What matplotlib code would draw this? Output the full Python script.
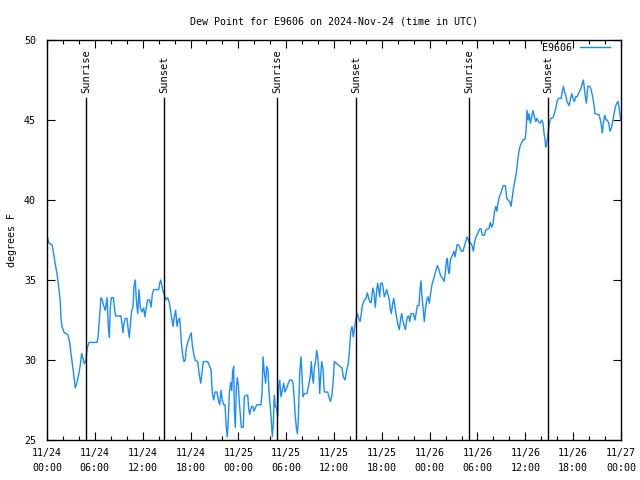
import matplotlib
matplotlib.use("Agg")
import matplotlib.pyplot as plt
from matplotlib.ticker import MultipleLocator

# hours since 2024-11-24 00:00 UTC
hours = [
    0.00, 0.25, 0.63, 0.75, 1.00, 1.25, 1.51, 1.67, 1.76, 1.88, 2.17, 2.60, 2.85, 3.01, 3.17, 3.35,
    3.55, 3.76, 3.98, 4.18, 4.35, 4.52, 4.68, 4.89, 5.02, 5.27, 6.27, 6.40, 6.56, 6.77, 6.94, 7.11,
    7.31, 7.53, 7.69, 7.82, 7.94, 8.07, 8.32, 8.49, 8.62, 9.28, 9.41, 9.53, 9.66, 9.82, 10.04, 10.16,
    10.32, 10.45, 10.62, 10.79, 10.91, 11.08, 11.20, 11.38, 11.54, 11.70, 11.92, 12.13, 12.29, 12.46,
    12.63, 12.88, 13.05, 13.21, 13.38, 14.01, 14.14, 14.26, 14.39, 14.51, 14.71, 14.93, 15.14, 15.34,
    15.52, 15.68, 15.81, 15.97, 16.14, 16.31, 16.47, 16.65, 16.77, 16.85, 17.02, 17.19, 17.35, 17.47,
    17.65, 17.90, 18.10, 18.23, 18.40, 18.57, 18.90, 19.07, 19.28, 19.48, 19.61, 20.16, 20.41, 20.57,
    20.74, 20.91, 21.07, 21.32, 21.49, 21.66, 21.83, 21.99, 22.17, 22.33, 22.49, 22.62, 22.74, 22.87,
    23.04, 23.17, 23.29, 23.42, 23.50, 23.62, 23.75, 23.87, 24.00, 24.12, 24.25, 24.37, 24.62, 24.75,
    25.00, 25.18, 25.30, 25.43, 25.55, 25.68, 25.84, 25.97, 26.13, 26.31, 26.84, 26.97, 27.10, 27.26,
    27.43, 27.56, 27.72, 27.85, 27.97, 28.10, 28.26, 28.39, 28.51, 28.64, 28.81, 28.94, 29.06, 29.19,
    29.35, 29.52, 29.69, 29.85, 30.07, 30.27, 30.44, 30.70, 30.86, 30.98, 31.11, 31.27, 31.40, 31.52,
    31.70, 31.86, 31.99, 32.11, 32.28, 32.61, 32.87, 33.03, 33.15, 33.28, 33.41, 33.53, 33.71, 33.83,
    33.96, 34.08, 34.21, 34.33, 34.46, 34.62, 34.78, 35.21, 35.37, 35.54, 35.71, 35.88, 36.04, 36.75,
    37.00, 37.17, 37.38, 37.60, 37.80, 37.92, 38.10, 38.26, 38.42, 38.60, 38.76, 38.92, 39.10, 39.26,
    39.43, 39.55, 39.76, 40.02, 40.18, 40.36, 40.52, 40.68, 40.86, 41.02, 41.18, 41.36, 41.48, 41.61,
    41.73, 41.86, 42.06, 42.19, 42.31, 42.49, 42.61, 42.78, 42.94, 43.06, 43.19, 43.37, 43.49, 43.62,
    43.74, 43.87, 44.03, 44.19, 44.37, 44.49, 44.62, 44.78, 44.95, 45.07, 45.20, 45.37, 45.50, 45.66,
    45.95, 46.16, 46.29, 46.45, 46.66, 46.79, 46.91, 47.04, 47.20, 47.33, 47.45, 47.63, 47.79, 47.96,
    48.13, 48.29, 48.46, 48.63, 48.80, 48.96, 49.14, 49.30, 49.46, 49.64, 49.80, 49.96, 50.09, 50.21,
    50.34, 50.47, 50.59, 50.77, 50.93, 51.06, 51.18, 51.31, 51.43, 51.64, 51.81, 51.97, 52.18, 52.35,
    52.52, 52.69, 52.85, 52.98, 53.19, 53.35, 53.48, 53.65, 53.82, 54.03, 54.28, 54.44, 54.61, 54.86,
    55.03, 55.28, 55.44, 55.61, 55.78, 55.95, 56.11, 56.29, 56.42, 56.57, 56.74, 56.91, 57.08, 57.24,
    57.49, 57.67, 57.83, 58.04, 58.20, 58.37, 58.54, 58.71, 58.87, 59.05, 59.21, 59.37, 59.55, 59.71,
    59.96, 60.09, 60.21, 60.34, 60.46, 60.63, 60.80, 60.96, 61.13, 61.30, 61.47, 61.63, 61.88, 62.06,
    62.22, 62.34, 62.47, 62.56, 62.68, 62.81, 62.93, 63.06, 63.22, 63.47, 63.64, 63.81, 63.97, 64.14,
    64.48, 64.64, 64.77, 64.89, 65.07, 65.23, 65.48, 65.64, 65.82, 65.98, 66.15, 66.32, 66.49, 66.65,
    66.82, 66.99, 67.15, 67.28, 67.40, 67.53, 67.66, 67.83, 68.08, 68.24, 68.41, 68.58, 68.74, 68.99,
    69.24, 69.41, 69.58, 69.66, 69.78, 69.96, 70.12, 70.28, 70.46, 70.62, 70.79, 70.96, 71.13, 71.29,
    71.47, 71.63, 71.75, 71.88, 71.96,
]
dewpoint = [
    37.75, 37.3, 37.2, 36.9, 36.1, 35.4, 34.4, 33.6, 32.6, 32.1, 31.7, 31.6, 31.1, 30.4, 29.8, 29.1,
    28.25, 28.6, 29.1, 29.7, 30.4, 30.1, 29.75, 30.0, 30.7, 31.1, 31.1, 31.4, 32.5, 33.9, 33.75, 33.4,
    33.1, 33.9, 32.1, 31.4, 33.3, 33.9, 33.9, 33.1, 32.75, 32.75, 32.2, 31.7, 32.3, 32.6, 32.6, 32.0,
    31.4, 32.2, 33.1, 33.3, 34.6, 35.0, 33.75, 32.9, 34.4, 33.3, 33.0, 33.25, 32.7, 33.3,
    33.75, 33.75, 33.3, 34.1, 34.4, 34.4, 34.8, 35.0, 34.7, 34.4, 34.1, 33.75, 33.9, 33.6,
    33.0, 32.5, 32.1, 32.7, 33.1, 32.1, 32.5, 32.6, 31.7, 31.1, 30.3, 29.9, 30.0, 30.75,
    31.1, 31.45, 31.7, 30.9, 30.4, 30.0, 29.9, 29.2, 28.55, 29.4, 29.9, 29.9, 29.6, 29.4,
    27.9, 27.5, 28.0, 28.0, 27.5, 27.2, 28.1, 27.5, 27.2, 27.2, 25.8, 25.2, 26.25, 27.9,
    28.6, 28.1, 29.3, 29.6, 26.9, 25.8, 28.25, 28.9, 28.4, 27.4, 26.6, 25.8, 25.8, 27.7,
    27.8, 27.8, 26.9, 26.6, 26.9, 27.1, 27.1, 26.8, 27.0, 27.2, 27.2, 27.9, 30.2, 29.2,
    28.55, 29.6, 29.4, 28.0, 27.3, 26.5, 25.2, 26.05, 27.8, 27.1, 27.0, 26.5, 28.3, 28.75,
    27.7, 28.1, 28.55, 28.0, 28.25, 28.55, 28.75, 28.75, 28.55, 27.8, 26.7, 25.8, 25.4, 26.25,
    29.2, 30.2, 29.0, 27.7, 27.9, 27.9, 28.55, 29.0, 29.9, 29.0, 28.55, 29.5, 30.0, 30.6,
    30.2, 29.4, 27.9, 29.0, 29.9, 29.4, 28.0, 28.0, 27.7, 27.4, 27.7, 28.55, 29.9, 29.6,
    29.5, 28.95, 28.75, 29.4, 29.8, 30.5, 31.8, 32.1, 31.45, 32.1, 32.6, 32.9, 32.6, 32.4,
    32.9, 33.4, 33.7, 33.85, 34.2, 33.85, 33.6, 33.6, 34.5, 34.2, 33.3, 34.4, 34.8, 34.4,
    33.95, 34.8, 34.8, 34.4, 33.95, 34.2, 34.4, 34.05, 33.75, 33.2, 32.9, 33.55, 33.85, 33.4,
    33.0, 32.6, 32.2, 31.9, 32.6, 32.9, 32.5, 32.2, 31.9, 32.3, 32.7, 32.75, 32.4, 32.9,
    32.9, 32.5, 32.9, 33.4, 33.4, 34.4, 34.95, 33.95, 33.1, 32.4, 33.1, 33.75, 33.95, 33.55,
    34.2, 34.7, 35.0, 35.3, 35.6, 35.9, 35.7, 35.4, 35.2, 35.1, 34.9, 35.4, 36.15, 36.35,
    35.6, 35.4, 36.25, 36.45, 36.65, 36.8, 36.45, 36.8, 37.2, 37.2, 37.0, 36.8, 36.8, 37.1,
    37.4, 37.7, 37.5, 37.3, 37.3, 37.1, 36.8, 37.4, 37.7, 37.9, 38.2, 38.2, 37.8, 37.8,
    38.1, 38.2, 38.2, 38.6, 38.3, 38.5, 39.2, 39.6, 39.3, 39.8, 40.2, 40.4, 40.7, 40.9,
    40.9, 40.1, 40.0, 39.9, 39.6, 40.2, 40.8, 41.25, 41.7, 42.5, 43.1, 43.4, 43.6, 43.75,
    43.8, 44.3, 45.6, 45.0, 45.4, 44.8, 45.2, 45.6, 45.2, 44.9, 45.1, 44.9, 44.8, 45.0,
    44.8, 44.2, 43.75, 43.3, 43.55, 43.95, 44.5, 44.9, 45.1, 45.15, 45.4, 45.7, 46.15, 46.35,
    46.35, 46.8, 47.1, 46.8, 46.55, 46.15, 45.9, 46.25, 46.65, 46.35, 46.15, 46.45, 46.45, 46.65,
    46.8, 47.0, 47.3, 47.5, 47.0, 46.45, 46.05, 47.1, 47.1, 46.9, 46.55, 46.05, 45.4, 45.35,
    45.35, 45.0, 44.5, 44.2, 44.8, 45.3, 45.0, 45.0, 44.8, 44.3, 44.5, 44.9, 45.4, 45.8,
    46.05, 46.15, 45.8, 45.3, 45.0,
]

sun_hours = [4.92, 14.71, 28.89, 38.80, 52.98, 62.89]
sun_labels = ["Sunrise", "Sunset", "Sunrise", "Sunset", "Sunrise", "Sunset"]

tick_hours = list(range(0, 73, 6))
tick_labels = [
    "11/24\n00:00", "11/24\n06:00", "11/24\n12:00", "11/24\n18:00",
    "11/25\n00:00", "11/25\n06:00", "11/25\n12:00", "11/25\n18:00",
    "11/26\n00:00", "11/26\n06:00", "11/26\n12:00", "11/26\n18:00",
    "11/27\n00:00",
]

plt.rcParams["font.family"] = "DejaVu Sans Mono"
plt.rcParams["font.size"] = 7.2

fig = plt.figure(figsize=(6.4, 4.8), dpi=100)
ax = fig.add_axes([47 / 640, 40 / 480, 574 / 640, 400 / 480])

ax.plot(hours, dewpoint, color="#1a8cff", lw=1.0, label="E9606")

for h, lab in zip(sun_hours, sun_labels):
    ax.plot([h, h], [25, 46.4], color="black", lw=1.0)
    ax.text(h, 46.7, lab, rotation=90, ha="center", va="bottom", fontsize=7.5)

ax.set_xlim(0, 72)
ax.set_ylim(25, 50)
ax.set_xticks(tick_hours)
ax.set_xticklabels(tick_labels, linespacing=1.55)
ax.xaxis.set_minor_locator(MultipleLocator(2))
ax.yaxis.set_major_locator(MultipleLocator(5))
ax.tick_params(which="both", direction="in", top=True, right=True, width=0.8)
ax.tick_params(which="major", length=6)
ax.tick_params(axis="x", which="major", pad=6)
ax.tick_params(axis="y", which="major", pad=8)
ax.tick_params(which="minor", length=3)
for s in ax.spines.values():
    s.set_linewidth(1.0)

ax.set_title("Dew Point for E9606 on 2024-Nov-24 (time in UTC)", fontsize=7.2, pad=11)
ax.set_ylabel("degrees F", labelpad=5)

leg = ax.legend(loc="upper right", frameon=False, markerfirst=False, handlelength=3.0,
                borderaxespad=0.0, borderpad=0.0, handletextpad=0.8,
                bbox_to_anchor=(0.981, 0.993))

fig.savefig("out.png", dpi=100)
